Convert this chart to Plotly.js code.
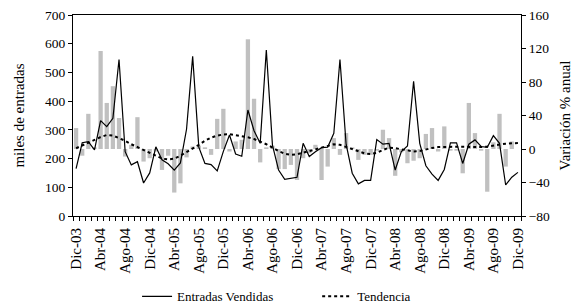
<!DOCTYPE html>
<html>
<head>
<meta charset="utf-8">
<script src="https://cdn.plot.ly/plotly-3.0.1.min.js"></script>
<style>html,body{margin:0;padding:0;background:#fff}#chart{width:579px;height:306px}</style>
</head>
<body>
<div id="chart"></div>
<script>
var months = ["Dic-03","Ene-04","Feb-04","Mar-04","Abr-04","May-04","Jun-04","Jul-04","Ago-04","Sep-04","Oct-04","Nov-04",
"Dic-04","Ene-05","Feb-05","Mar-05","Abr-05","May-05","Jun-05","Jul-05","Ago-05","Sep-05","Oct-05","Nov-05",
"Dic-05","Ene-06","Feb-06","Mar-06","Abr-06","May-06","Jun-06","Jul-06","Ago-06","Sep-06","Oct-06","Nov-06",
"Dic-06","Ene-07","Feb-07","Mar-07","Abr-07","May-07","Jun-07","Jul-07","Ago-07","Sep-07","Oct-07","Nov-07",
"Dic-07","Ene-08","Feb-08","Mar-08","Abr-08","May-08","Jun-08","Jul-08","Ago-08","Sep-08","Oct-08","Nov-08",
"Dic-08","Ene-09","Feb-09","Mar-09","Abr-09","May-09","Jun-09","Jul-09","Ago-09","Sep-09","Oct-09","Nov-09","Dic-09"];

var entradas = [165,255,259,230,332,311,340,545,224,178,189,115,
150,241,196,182,160,185,302,556,240,183,179,157,
225,282,216,208,369,297,253,578,247,160,128,131,
135,253,207,224,238,240,288,545,250,149,112,124,
124,266,250,253,160,224,244,469,253,175,146,124,
162,255,255,183,250,265,242,239,280,253,108,135,152];

var tendencia = [236,245,255,265,275,282,280,272,262,250,240,230,
220,210,200,197,200,210,222,235,248,262,273,280,
284,285,282,278,274,268,260,250,238,226,217,213,
215,220,226,232,238,244,250,248,240,232,224,218,
216,220,230,238,236,232,228,225,226,232,237,240,
241,241,241,241,240,239,240,242,246,250,252,253,254];

var variacion = [25,-8,42,2,117,55,75,37,-9,5,38,-15,
-11,-3,-25,-8,-52,-41,-10,3,4,2,-7,36,
48,-3,9,11,131,60,-16,2,4,-24,-24,-19,
-37,-11,-5,5,-37,-21,13,-7,19,2,-13,-7,
-7,-2,23,13,-32,-4,-17,-14,-11,18,25,-3,
27,-2,-2,-29,55,19,-2,-51,8,42,-21,9,0];

var tickLabels = ["Dic-03","Abr-04","Ago-04","Dic-04","Abr-05","Ago-05","Dic-05","Abr-06","Ago-06","Dic-06","Abr-07","Ago-07","Dic-07","Abr-08","Ago-08","Dic-08","Abr-09","Ago-09","Dic-09"];

var idx = months.map(function(m,i){return i;});
var tickIdx = tickLabels.map(function(l){return months.indexOf(l);});

var fam = "Times New Roman";
var tickFont = {family:fam, size:13.5, color:"#000"};
var xFont = {family:fam, size:15, color:"#000"};
var titleFont = {family:fam, size:15, color:"#000"};
var legFont = {family:fam, size:13, color:"#000"};

var traces = [
  {type:"bar", x:idx, y:variacion, xaxis:"x", yaxis:"y", marker:{color:"#c0c0c0"}, showlegend:false, hoverinfo:"skip"},
  {type:"scatter", mode:"lines", x:idx, y:entradas, xaxis:"x", yaxis:"y2", name:"Entradas Vendidas", legend:"legend", line:{color:"#000", width:1.2}},
  {type:"scatter", mode:"lines", x:idx, y:tendencia, xaxis:"x", yaxis:"y2", name:"Tendencia", legend:"legend2", line:{color:"#000", width:2, dash:"dot"}}
];

var layout = {
  width:579, height:306,
  margin:{l:73, r:58, t:15, b:90, autoexpand:false},
  paper_bgcolor:"#fff", plot_bgcolor:"#fff",
  font:{family:fam, size:13, color:"#000"},
  bargap:0.3,
  showlegend:true,
  legend:{orientation:"h", x:0.143, xanchor:"left", y:-0.4, yanchor:"middle", font:legFont, bgcolor:"rgba(0,0,0,0)"},
  legend2:{orientation:"h", x:0.545, xanchor:"left", y:-0.4, yanchor:"middle", font:legFont, bgcolor:"rgba(0,0,0,0)"},
  xaxis:{automargin:false, range:[-0.5,72.5], tickmode:"array", tickvals:tickIdx, ticktext:tickLabels, tickangle:-90, ticks:"", ticklabelstandoff:5,
         showgrid:false, zeroline:false, showline:true, linecolor:"#000", linewidth:1, mirror:true, tickfont:xFont,
         minor:{tick0:-0.5, dtick:1, ticks:"outside", ticklen:4, tickcolor:"#000", tickwidth:1, showgrid:false}},
  yaxis:{automargin:false, side:"right", range:[-80,160], tickmode:"array", tickvals:[-80,-40,0,40,80,120,160], ticks:"outside", ticklen:4, tickcolor:"#000",
         showgrid:false, zeroline:false, showline:true, linecolor:"#000", linewidth:1,
         title:{text:"Variación % anual", font:titleFont, standoff:10}, tickfont:tickFont},
  yaxis3:{automargin:false, overlaying:"y", side:"right", range:[-80,160], tickmode:"array", tickvals:[-80,-40,0,40,80,120,160], ticks:"inside", ticklen:4, tickcolor:"#000",
         showticklabels:false, showgrid:false, zeroline:false, showline:false},
  yaxis2:{automargin:false, overlaying:"y", side:"left", range:[0,700], tickmode:"array", tickvals:[0,100,200,300,400,500,600,700], ticks:"outside", ticklen:4, tickcolor:"#000",
         showgrid:false, zeroline:false, showline:true, linecolor:"#000", linewidth:1,
         title:{text:"miles de entradas", font:titleFont, standoff:16}, tickfont:tickFont}
};

Plotly.newPlot("chart", traces, layout, {displayModeBar:false, staticPlot:true});
</script>
</body>
</html>
